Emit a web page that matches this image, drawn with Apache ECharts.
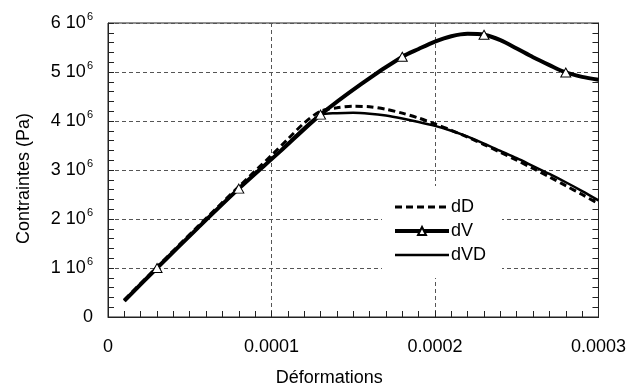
<!DOCTYPE html>
<html>
<head>
<meta charset="utf-8">
<script src="https://cdn.jsdelivr.net/npm/echarts@6/dist/echarts.min.js"></script>
<style>
  html, body { margin: 0; padding: 0; background: #fff; }
  #chart { width: 629px; height: 392px; }
</style>
</head>
<body>
<div id="chart"></div>
<script>
// Strain (x) and stress in units of 1e6 Pa (y) for each model
const dDStrain = [1e-5, 3e-5, 5.5e-5, 8e-5, 1.0e-4, 1.1e-4, 1.2e-4, 1.3e-4, 1.4e-4, 1.5e-4, 1.6e-4, 1.7e-4, 1.8e-4, 1.9e-4, 2.0e-4, 2.1e-4, 2.2e-4, 2.3e-4, 2.4e-4, 2.5e-4, 2.6e-4, 2.7e-4, 2.8e-4, 2.9e-4, 3.0e-4];
const dDStress = [0.35, 1.02, 1.85, 2.66, 3.30, 3.63, 3.96, 4.20, 4.27, 4.30, 4.29, 4.24, 4.16, 4.06, 3.94, 3.81, 3.67, 3.52, 3.36, 3.20, 3.03, 2.86, 2.68, 2.50, 2.31];

const dVStrain = [1e-5, 3e-5, 5.5e-5, 8e-5, 1.05e-4, 1.3e-4, 1.55e-4, 1.8e-4, 1.9e-4, 2.0e-4, 2.1e-4, 2.2e-4, 2.3e-4, 2.4e-4, 2.5e-4, 2.6e-4, 2.7e-4, 2.8e-4, 2.9e-4, 3.0e-4];
const dVStress = [0.33, 1.00, 1.82, 2.62, 3.37, 4.13, 4.76, 5.31, 5.47, 5.62, 5.73, 5.78, 5.76, 5.65, 5.48, 5.30, 5.14, 4.99, 4.90, 4.84];
// strains where the dV curve carries a triangle marker
const dVMarkerStrain = [3e-5, 8e-5, 1.3e-4, 1.8e-4, 2.3e-4, 2.8e-4];

const dVDStrain = [1e-5, 3e-5, 5.5e-5, 8e-5, 1.05e-4, 1.3e-4, 1.4e-4, 1.5e-4, 1.6e-4, 1.7e-4, 1.8e-4, 1.9e-4, 2.0e-4, 2.1e-4, 2.2e-4, 2.3e-4, 2.4e-4, 2.5e-4, 2.6e-4, 2.7e-4, 2.8e-4, 2.9e-4, 3.0e-4];
const dVDStress = [0.33, 1.00, 1.82, 2.62, 3.37, 4.12, 4.16, 4.17, 4.15, 4.11, 4.05, 3.98, 3.90, 3.80, 3.68, 3.54, 3.39, 3.24, 3.08, 2.92, 2.75, 2.57, 2.38];

const xTicks = [0, 0.0001, 0.0002, 0.0003];
const yTicks = [0, 1e6, 2e6, 3e6, 4e6, 5e6, 6e6];

const FONT = '"Liberation Sans", Arial, Helvetica, sans-serif';

function pairs(xs, ys) {
  return xs.map((x, i) => [x, ys[i] * 1e6]);
}
function isMarker(x) {
  return dVMarkerStrain.some(m => Math.abs(m - x) < 1e-9);
}

const chart = echarts.init(document.getElementById('chart'), null, { renderer: 'canvas' });

const gridLine = { show: true, lineStyle: { color: '#555', type: [4, 3], width: 1 } };
const hiddenMark = { opacity: 0 };

chart.setOption({
  animation: false,
  backgroundColor: '#fff',
  textStyle: { fontFamily: FONT },
  grid: {
    left: 108, right: 28, top: 23, bottom: 74,
    show: true, borderColor: '#222', borderWidth: 1
  },
  legend: {
    orient: 'vertical',
    left: 382, top: 186,
    padding: [12, 16, 14, 11],
    backgroundColor: '#fff',
    itemWidth: 54, itemHeight: 10, itemGap: 6,
    textStyle: { fontSize: 18, color: '#000', fontFamily: FONT, lineHeight: 18, padding: [0, 0, 0, -3] },
    data: [
      { name: 'dD', itemStyle: hiddenMark, lineStyle: { width: 3, type: [7, 4], color: '#000' } },
      { name: 'dV', lineStyle: { width: 4, color: '#000' } },
      { name: 'dVD', itemStyle: hiddenMark, lineStyle: { width: 2.5, color: '#000' } }
    ]
  },
  xAxis: [{
    type: 'value',
    min: xTicks[0], max: xTicks[xTicks.length - 1], interval: 0.0001,
    name: 'Déformations',
    nameLocation: 'middle', nameGap: 52,
    nameTextStyle: { fontSize: 18, color: '#000', fontFamily: FONT, padding: [0, 48, 0, 0] },
    axisLine: { show: true, lineStyle: { color: '#222', width: 1 } },
    axisTick: { show: true, inside: true, length: 6, lineStyle: { color: '#222' } },
    minorTick: { show: true, splitNumber: 10, length: 6, lineStyle: { color: '#222' } },
    axisLabel: {
      fontSize: 18, color: '#000', margin: 21, fontFamily: FONT,
      formatter: v => (v === 0 ? '0' : v.toFixed(4))
    },
    splitLine: gridLine
  }],
  yAxis: [{
    type: 'value',
    min: yTicks[0], max: yTicks[yTicks.length - 1], interval: 1e6,
    name: 'Contraintes (Pa)',
    nameLocation: 'middle', nameGap: 75,
    nameTextStyle: { fontSize: 18, color: '#000', fontFamily: FONT, padding: [0, 17, 0, 0] },
    axisLine: { show: true, lineStyle: { color: '#222', width: 1 } },
    axisTick: { show: true, inside: true, length: 6, lineStyle: { color: '#222' } },
    minorTick: { show: true, splitNumber: 5, length: 6, lineStyle: { color: '#222' } },
    axisLabel: {
      margin: 15, fontFamily: FONT,
      formatter: v => (v === 0 ? '{m|0}' : '{m|' + Math.round(v / 1e6) + ' 10}{s|6}'),
      rich: {
        m: { fontSize: 18, color: '#000', fontFamily: FONT, lineHeight: 24 },
        s: { fontSize: 11, color: '#000', fontFamily: FONT, verticalAlign: 'top', lineHeight: 12, padding: [0, 0, 0, 1] }
      }
    },
    splitLine: gridLine
  }, {
    type: 'value', position: 'right',
    min: yTicks[0], max: yTicks[yTicks.length - 1], interval: 1e6,
    axisLine: { show: true, lineStyle: { color: '#222', width: 1 } },
    axisTick: { show: true, inside: true, length: 6, lineStyle: { color: '#222' } },
    minorTick: { show: true, splitNumber: 5, length: 6, lineStyle: { color: '#222' } },
    axisLabel: { show: false },
    splitLine: { show: false }
  }],
  series: [{
    name: 'dD',
    type: 'line',
    smooth: 0.3,
    showSymbol: false,
    symbol: 'none',
    data: pairs(dDStrain, dDStress),
    lineStyle: { color: '#000', width: 3, type: [7, 4] },
    itemStyle: { color: '#000' }
  }, {
    name: 'dV',
    type: 'line',
    smooth: 0.3,
    showAllSymbol: true,
    symbol: 'triangle',
    symbolSize: [10, 9],
    data: pairs(dVStrain, dVStress).map(p => ({ value: p, symbol: isMarker(p[0]) ? 'triangle' : 'none' })),
    lineStyle: { color: '#000', width: 4 },
    itemStyle: { color: '#fff', borderColor: '#000', borderWidth: 1 },
    z: 3
  }, {
    name: 'dVD',
    type: 'line',
    smooth: 0.3,
    showSymbol: false,
    symbol: 'none',
    data: pairs(dVDStrain, dVDStress),
    lineStyle: { color: '#000', width: 2.5 },
    itemStyle: { color: '#000' }
  }]
});
</script>
</body>
</html>
